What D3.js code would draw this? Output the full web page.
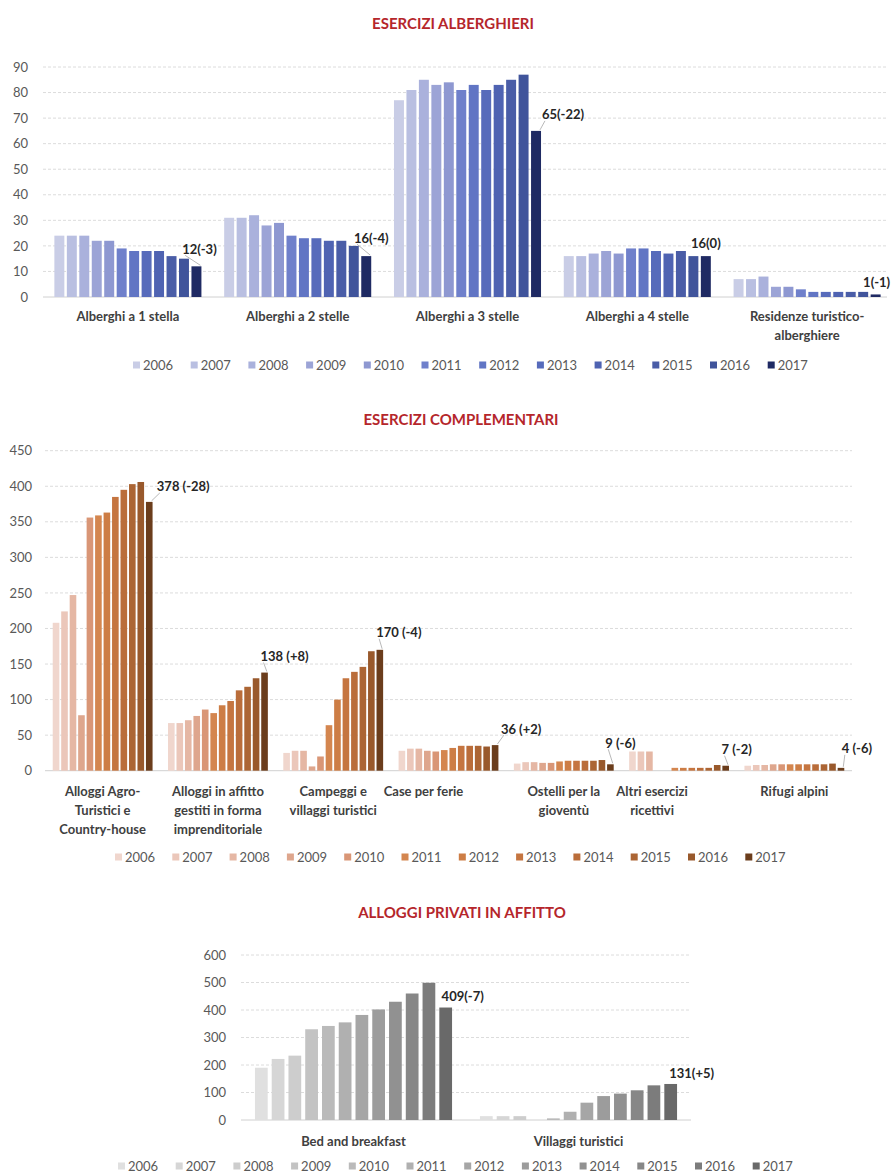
<!DOCTYPE html>
<html>
<head>
<meta charset="utf-8">
<script src="https://cdn.jsdelivr.net/npm/d3@7"></script>
<style>
  body { margin: 0; background: #ffffff; }
  svg { display: block; font-family: Lato, "Open Sans", sans-serif; }
</style>
</head>
<body>
<svg id="chart" width="892" height="1175"></svg>
<script>
// ---- Data ----
const years = ["2006","2007","2008","2009","2010","2011","2012","2013","2014","2015","2016","2017"];

// Esercizi alberghieri
const hotelCategories = ["Alberghi a 1 stella", "Alberghi a 2 stelle", "Alberghi a 3 stelle", "Alberghi a 4 stelle", "Residenze turistico-\nalberghiere"];
const hotel1Star   = [24, 24, 24, 22, 22, 19, 18, 18, 18, 16, 15, 12];
const hotel2Stars  = [31, 31, 32, 28, 29, 24, 23, 23, 22, 22, 20, 16];
const hotel3Stars  = [77, 81, 85, 83, 84, 81, 83, 81, 83, 85, 87, 65];
const hotel4Stars  = [16, 16, 17, 18, 17, 19, 19, 18, 17, 18, 16, 16];
const hotelResid   = [7, 7, 8, 4, 4, 3, 2, 2, 2, 2, 2, 1];
const hotelChange  = [-3, -4, -22, 0, -1];
const hotelTicks   = [0, 10, 20, 30, 40, 50, 60, 70, 80, 90];

// Esercizi complementari
const complCategories = ["Alloggi Agro-\nTuristici e\nCountry-house", "Alloggi in affitto\ngestiti in forma\nimprenditoriale", "Campeggi e\nvillaggi turistici", "Case per ferie", "Ostelli per la\ngioventù", "Altri esercizi\nricettivi", "Rifugi alpini"];
const complAgro     = [208, 224, 247, 78, 356, 359, 363, 385, 395, 403, 406, 378];
const complAffitto  = [67, 67, 71, 77, 86, 81, 92, 98, 113, 118, 130, 138];
const complCampeggi = [25, 28, 28, 6, 20, 64, 100, 130, 139, 146, 168, 170];
const complCase     = [28, 31, 31, 28, 27, 29, 32, 35, 35, 35, 34, 36];
const complOstelli  = [10, 12, 12, 11, 11, 13, 14, 14, 14, 14, 15, 9];
const complAltri    = [27, 27, 27, 0, 0, 4, 4, 4, 4, 4, 8, 7];
const complRifugi   = [7, 8, 8, 9, 9, 9, 9, 9, 9, 9, 10, 4];
const complChange   = [-28, 8, -4, 2, -6, -2, -6];
const complTicks    = [0, 50, 100, 150, 200, 250, 300, 350, 400, 450];

// Alloggi privati in affitto
const privCategories = ["Bed and breakfast", "Villaggi turistici"];
const privBnb        = [190, 222, 234, 330, 342, 355, 382, 402, 430, 460, 499, 409];
const privVillaggi   = [14, 14, 14, 0, 6, 30, 63, 87, 96, 108, 126, 131];
const privChange     = [-7, 5];
const privTicks      = [0, 100, 200, 300, 400, 500, 600];

// ---- Palettes (one shade per year) ----
const bluePalette  = ["#c9cde6","#b9bfe1","#aab1dc","#9ca4d6","#8e98d1","#6f80cb","#6175c4","#576bbb","#4f63b2","#4a5da7","#40549b","#1f2a63"];
const brownPalette = ["#f0d6cd","#ebc7ba","#e5b7a4","#dea68d","#d99676","#d4864f","#cd7d45","#c57540","#ba6d3a","#ac6534","#99592c","#6b3d1c"];
const greyPalette  = ["#e0e0e0","#d6d6d6","#cdcdcd","#c3c3c3","#bababa","#b0b0b0","#a6a6a6","#9c9c9c","#919191","#878787","#7c7c7c","#696969"];

const svg = d3.select("#chart");

function changeLabel(value, change, sep) {
  const c = change > 0 ? "+" + change : String(change);
  return value + sep + "(" + c + ")";
}

function drawPanel(cfg) {
  const g = svg.append("g");

  const x0 = d3.scaleBand().domain(d3.range(cfg.categories.length)).range([cfg.left, cfg.right]);
  const bw = x0.bandwidth();
  const x1 = d3.scaleBand().domain(years)
    .range([bw * cfg.groupInset, bw * (1 - cfg.groupInset)])
    .paddingInner(cfg.barPad);
  const y = d3.scaleLinear().domain([0, d3.max(cfg.ticks)]).range([cfg.bottom, cfg.top]);

  // Title
  svg.append("text")
    .attr("x", cfg.titleX).attr("y", cfg.titleY)
    .attr("text-anchor", "middle")
    .attr("font-size", 15).attr("font-weight", 700)
    .attr("fill", "#b5262b")
    .text(cfg.title);

  // Horizontal gridlines
  g.append("g").selectAll("line").data(cfg.ticks).join("line")
    .attr("x1", cfg.left).attr("x2", cfg.gridRight)
    .attr("y1", d => y(d)).attr("y2", d => y(d))
    .attr("stroke", d => d === 0 ? "#d0d0d0" : "#dcdcdc")
    .attr("stroke-width", 1)
    .attr("stroke-dasharray", d => d === 0 ? null : "3,2");

  // Value axis
  const axisG = g.append("g")
    .attr("transform", `translate(${cfg.left},0)`)
    .call(d3.axisLeft(y).tickValues(cfg.ticks).tickSize(0).tickPadding(cfg.tickPad));
  axisG.select(".domain").remove();
  axisG.attr("font-family", null).attr("font-size", null);
  axisG.selectAll("text").attr("font-size", 13).attr("fill", "#595959");

  // Bars
  cfg.values.forEach((vals, ci) => {
    g.append("g")
      .attr("transform", `translate(${x0(ci)},0)`)
      .selectAll("rect")
      .data(vals.map((v, i) => ({ year: years[i], v, i })))
      .join("rect")
      .attr("x", d => x1(d.year))
      .attr("width", x1.bandwidth())
      .attr("y", d => y(d.v))
      .attr("height", d => y(0) - y(d.v))
      .attr("fill", d => cfg.palette[d.i]);
  });

  // Category labels
  cfg.categories.forEach((c, ci) => {
    const t = g.append("text")
      .attr("text-anchor", "middle")
      .attr("font-size", 13).attr("font-weight", 700)
      .attr("fill", "#404040");
    const cx = x0(ci) + bw / 2 + (cfg.catShift[ci] || 0);
    c.split("\n").forEach((line, li) => {
      t.append("tspan").attr("x", cx).attr("y", cfg.catY + li * cfg.lineH).text(line);
    });
  });

  // Latest-year value labels with change vs previous year
  cfg.values.forEach((vals, ci) => {
    const last = vals[vals.length - 1];
    const bx = x0(ci) + x1(years[years.length - 1]) + x1.bandwidth() / 2;
    const by = y(last);
    const [dx, dy] = cfg.labelOffsets[ci];
    const lx = bx + dx, ly = by + dy;
    const t = g.append("text")
      .attr("x", lx).attr("y", ly + 4.5)
      .attr("text-anchor", "middle")
      .attr("font-size", 13).attr("font-weight", 700)
      .attr("fill", "#262626")
      .text(changeLabel(last, cfg.changes[ci], cfg.sep));
    if (cfg.leaders[ci]) {
      const w = t.node().getComputedTextLength();
      g.append("line")
        .attr("x1", bx + x1.bandwidth() / 2 - 1).attr("y1", by - 1)
        .attr("x2", lx - w / 2 + 3).attr("y2", ly + 6)
        .attr("stroke", "#a6a6a6").attr("stroke-width", 0.8);
    }
  });

  // Legend
  const lg = g.append("g");
  years.forEach((yr, i) => {
    const sx = cfg.legendX + i * cfg.legendStep;
    lg.append("rect")
      .attr("x", sx).attr("y", cfg.legendY - 3.5)
      .attr("width", 7).attr("height", 7)
      .attr("fill", cfg.palette[i]);
    lg.append("text")
      .attr("x", sx + 10).attr("y", cfg.legendY + 4.5)
      .attr("font-size", 13).attr("fill", "#595959")
      .text(yr);
  });
}

drawPanel({
  title: "ESERCIZI ALBERGHIERI", titleX: 453, titleY: 29,
  categories: hotelCategories,
  values: [hotel1Star, hotel2Stars, hotel3Stars, hotel4Stars, hotelResid],
  changes: hotelChange, sep: "",
  ticks: hotelTicks,
  left: 43, right: 892, gridRight: 887, top: 67, bottom: 297,
  groupInset: 0.067, barPad: 0.2, tickPad: 15,
  palette: bluePalette,
  catY: 321, lineH: 19, catShift: [],
  labelOffsets: [[3, -17], [5, -18], [27, -16], [0, -13], [1, -12]],
  leaders: [true, true, true, false, false],
  legendX: 133, legendStep: 57.7, legendY: 365
});

drawPanel({
  title: "ESERCIZI COMPLEMENTARI", titleX: 461, titleY: 425,
  categories: complCategories,
  values: [complAgro, complAffitto, complCampeggi, complCase, complOstelli, complAltri, complRifugi],
  changes: complChange, sep: " ",
  ticks: complTicks,
  left: 45, right: 852, gridRight: 852, top: 450.7, bottom: 770.7,
  groupInset: 0.067, barPad: 0.22, tickPad: 13,
  palette: brownPalette,
  catY: 796, lineH: 19, catShift: [0, 0, 0, -25, 0, -27, 0],
  labelOffsets: [[34, -15], [20, -16], [19, -17], [26, -16], [10, -21], [11, -16], [16, -19]],
  leaders: [true, true, true, true, true, true, true],
  legendX: 115, legendStep: 57.3, legendY: 857
});

drawPanel({
  title: "ALLOGGI PRIVATI IN AFFITTO", titleX: 462, titleY: 918,
  categories: privCategories,
  values: [privBnb, privVillaggi],
  changes: privChange, sep: "",
  ticks: privTicks,
  left: 241, right: 691, gridRight: 691, top: 955, bottom: 1120,
  groupInset: 0.062, barPad: 0.24, tickPad: 15,
  palette: greyPalette,
  catY: 1146, lineH: 19, catShift: [],
  labelOffsets: [[17, -11.5], [21, -10]],
  leaders: [false, false],
  legendX: 118, legendStep: 57.7, legendY: 1166
});
</script>
</body>
</html>
